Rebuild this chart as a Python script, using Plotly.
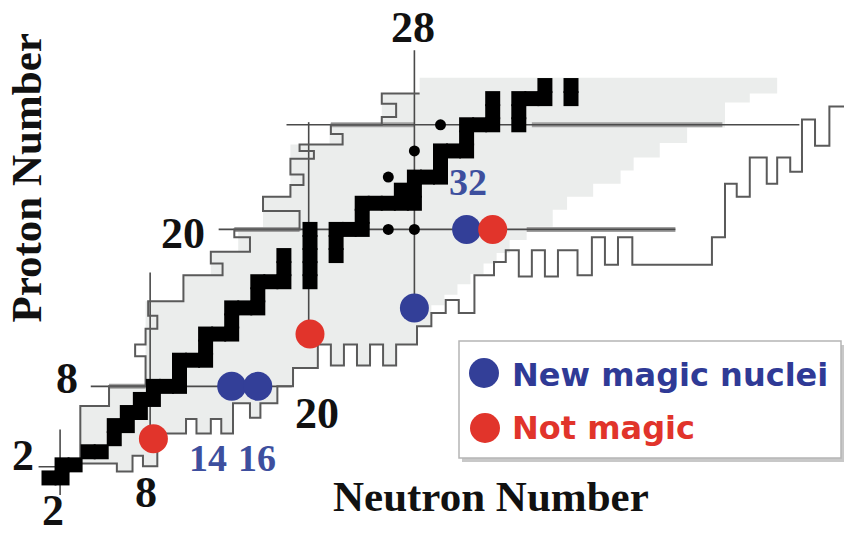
import plotly.graph_objects as go

# ---------------- data (N = neutron number, Z = proton number) ----------------
# stable nuclides drawn as black cells
stable_N = [0, 1, 1, 2, 3, 4, 5, 5, 6, 6, 7, 7, 8, 8, 9, 10, 10, 10, 11, 12, 12, 12, 13, 14,
            14, 14, 15, 16, 16, 16, 17, 18, 20, 18, 20, 18, 20, 22, 20, 22, 20, 22, 23, 24,
            24, 24, 25, 26, 27, 28, 27, 28, 28, 29, 30, 30, 30, 31, 32, 32, 32, 33, 34, 36,
            34, 36, 34, 36, 37, 38, 40, 38, 40]
stable_Z = [1, 1, 2, 2, 3, 3, 4, 5, 5, 6, 6, 7, 7, 8, 8, 8, 9, 10, 10, 10, 11, 12, 12, 12,
            13, 14, 14, 14, 15, 16, 16, 16, 16, 17, 17, 18, 18, 18, 19, 19, 20, 20, 20, 20,
            21, 22, 22, 22, 22, 22, 23, 23, 24, 24, 24, 25, 26, 26, 26, 27, 28, 28, 28, 28,
            29, 29, 30, 30, 30, 30, 30, 31, 31]
# stable nuclides drawn as small dots
dot_N = [26, 28, 26, 28, 30]
dot_Z = [20, 20, 24, 26, 28]

# new magic / not magic nuclei
magic_N = [14, 16, 28, 32]
magic_Z = [8, 8, 14, 20]
notmagic_N = [8, 20, 34]
notmagic_Z = [4, 12, 20]

# proton drip line (upper-left staircase)
PD_N = [2.4, 2.4, 4.6, 4.6, 7.4, 7.4, 6.6, 6.6, 7.4, 7.4, 8.3, 8.3, 7.6, 7.6, 10.3, 10.3,
        13.3, 13.3, 12.4, 12.4, 15.4, 15.4, 14.2, 14.2, 19.2, 19.2, 16.4, 16.4, 18.5, 18.5,
        19.5, 19.5, 18.5, 18.5, 20.3, 20.3, 19.2, 19.2, 22.5, 22.5, 21.6, 21.6, 25.5, 25.5,
        26.6, 26.6, 25.5, 25.5, 28.4]
PD_Z = [2.5, 6.5, 6.5, 8.0, 8.0, 10.3, 10.3, 11.2, 11.2, 12.4, 12.4, 13.4, 13.4, 14.5, 14.5, 16.5,
        16.5, 17.4, 17.4, 18.3, 18.3, 19.4, 19.4, 20.0, 20.0, 21.4, 21.4, 22.5, 22.5, 23.4,
        23.4, 24.2, 24.2, 25.4, 25.4, 26.0, 26.0, 26.5, 26.5, 27.3, 27.3, 28.0, 28.0, 28.6,
        28.6, 29.6, 29.6, 30.4, 30.4]

# neutron drip line (lower-right staircase)
ND_N = [2.4, 5.2, 5.2, 6.4, 6.4, 7.2, 7.2, 8.3, 8.3,
        10.5, 10.5, 11.3, 11.3, 12.4, 12.4, 13.2, 13.2, 14.1,
        14.1, 15.4, 15.4, 16.2, 16.2, 17.5, 17.5, 18.7,
        18.7, 20.6, 20.6, 21.6, 21.6, 22.6, 22.6, 23.6, 23.6, 24.6, 24.6, 25.6, 25.6, 26.6,
        26.6, 28.2, 28.2, 29.3, 29.3, 30.4, 30.4, 31.4, 31.4, 32.6, 32.6, 34.1, 34.1, 35.0,
        35.0, 36.0, 36.0, 37.0, 37.0, 38.0, 38.0, 39.0, 39.0, 40.5, 40.5, 41.6, 41.6, 42.6,
        42.6, 43.6, 43.6, 44.7, 44.7, 50.8, 50.8, 51.8, 51.8, 52.7, 52.7, 53.7, 53.7, 55.0,
        55.0, 55.8, 55.8, 56.8, 56.8, 57.7, 57.7, 58.7, 58.7, 59.8, 59.8, 61.5]
ND_Z = [2.1, 2.1, 1.5, 1.5, 2.7, 2.7, 1.9, 1.9, 4.4,
        4.4, 5.5, 5.5, 4.4, 4.4, 5.5, 5.5, 4.4, 4.4,
        6.7, 6.7, 5.6, 5.6, 6.7, 6.7, 8.0, 8.0,
        9.4, 9.4, 11.2, 11.2, 9.6, 9.6, 11.2, 11.2, 9.6, 9.6, 11.2, 11.2, 9.6, 9.6,
        11.2, 11.2, 12.6, 12.6, 13.6, 13.6, 14.6, 14.6, 13.6, 13.6, 16.5, 16.5, 17.5, 17.5,
        18.4, 18.4, 16.4, 16.4, 18.4, 18.4, 16.4, 16.4, 18.4, 18.4, 16.5, 16.5, 19.4, 19.4,
        17.3, 17.3, 19.4, 19.4, 17.3, 17.3, 19.4, 19.4, 23.5, 23.5, 22.5, 22.5, 25.5, 25.5,
        23.5, 23.5, 25.5, 25.5, 24.4, 24.4, 28.4, 28.4, 26.4, 26.4, 29.4, 29.4, 26.4, 26.4]

# right / top boundary of the shaded region of observed nuclei
FR_N = [29.3, 30.3, 30.3, 31.3, 31.3, 32.3, 32.3, 33.3, 33.3, 34.3, 34.3, 35.3, 35.3, 36.6,
        36.6, 38.6, 38.6, 39.7, 39.7, 41.7, 41.7, 43.8, 43.8, 44.8, 44.8, 46.8, 46.8, 48.9,
        48.9, 51.8, 51.8, 53.7, 53.7, 55.8, 55.8, 28.4, 28.4]
FR_Z = [14.2, 14.2, 15.0, 15.0, 15.8, 15.8, 16.6, 16.6, 17.4, 17.4, 18.2, 18.2, 19.2, 19.2,
        20.2, 20.2, 21.5, 21.5, 22.5, 22.5, 23.5, 23.5, 24.5, 24.5, 25.5, 25.5, 26.6, 26.6,
        27.8, 27.8, 29.7, 29.7, 30.4, 30.4, 31.6, 31.6, 30.4]
# upper-left envelope of the shaded region (top to bottom)
PE_N = [25.5, 25.5, 21.5, 21.5, 18.5, 18.5, 16.4, 16.4, 14.5, 14.5, 12.4, 12.4, 10.3, 10.3,
        7.4, 7.4, 4.6, 4.6, 2.4, 2.4]
PE_Z = [30.4, 28.0, 28.0, 26.5, 26.5, 22.5, 22.5, 20.0, 20.0, 18.3, 18.3, 16.5, 16.5, 14.5,
        14.5, 8.0, 8.0, 6.5, 6.5, 2.1]

# magic-number lines as drawn: horizontal (Z, N from, N to) and vertical (N, Z from, Z to)
hline_Z = [1.85, 8.0, 20.0, 28.0]
hline_N0 = [-0.8, 3.2, 13.0, 18.2]
hline_N1 = [2.4, 18.6, 48.0, 57.5]
vline_N = [0.85, 7.75, 19.9, 28.0]
vline_Z0 = [-0.3, 3.5, 12.0, 13.8]
vline_Z1 = [4.7, 16.7, 28.2, 33.7]
# thicker grey doubling of some line stretches
halo_Z = [8.0, 20.0, 28.0, 20.0, 28.0]
halo_N0 = [4.6, 14.2, 21.6, 36.6, 37.0]
halo_N1 = [7.4, 19.2, 28.0, 48.0, 51.6]

# labels
num_text = ["28", "20", "8", "2", "2", "8", "20"]
num_N = [27.9, 10.3, 1.4, -2.0, 0.3, 7.4, 20.5]
num_Z = [35.4, 19.7, 8.6, 2.75, -1.5, -0.1, 5.9]
blue_text = ["14", "16", "32"]
blue_N = [12.2, 15.9, 32.1]
blue_Z = [2.5, 2.5, 23.6]

BLUE = "#333f98"
RED = "#e1342b"
LINE = "#5a5a5a"

fig = go.Figure()

# shaded region
nd_cut = 44  # index of (29.3, 13.6) in ND path
fill_N = ND_N[:nd_cut] + FR_N + PE_N
fill_Z = ND_Z[:nd_cut] + FR_Z + PE_Z
fig.add_trace(go.Scatter(x=fill_N, y=fill_Z, mode="lines", fill="toself",
                         fillcolor="#ebedec", line=dict(width=0), hoverinfo="skip"))

# halos
for z, a, b in zip(halo_Z, halo_N0, halo_N1):
    fig.add_trace(go.Scatter(x=[a, b], y=[z, z], mode="lines",
                             line=dict(color="#a0a0a0", width=5), hoverinfo="skip"))
# magic lines
for z, a, b in zip(hline_Z, hline_N0, hline_N1):
    fig.add_trace(go.Scatter(x=[a, b], y=[z, z], mode="lines",
                             line=dict(color="#4a4a4a", width=1.6), hoverinfo="skip"))
for n, a, b in zip(vline_N, vline_Z0, vline_Z1):
    fig.add_trace(go.Scatter(x=[n, n], y=[a, b], mode="lines",
                             line=dict(color="#4a4a4a", width=1.6), hoverinfo="skip"))

# drip lines
fig.add_trace(go.Scatter(x=PD_N, y=PD_Z, mode="lines",
                         line=dict(color=LINE, width=2), hoverinfo="skip"))
fig.add_trace(go.Scatter(x=ND_N, y=ND_Z, mode="lines",
                         line=dict(color=LINE, width=2), hoverinfo="skip"))

# stable nuclei
fig.add_trace(go.Scatter(x=stable_N, y=stable_Z, mode="markers",
                         marker=dict(symbol="square", size=15, color="black", line=dict(width=0)),
                         hoverinfo="skip"))
fig.add_trace(go.Scatter(x=dot_N, y=dot_Z, mode="markers",
                         marker=dict(symbol="circle", size=11, color="black", line=dict(width=0)),
                         hoverinfo="skip"))

# new magic / not magic
fig.add_trace(go.Scatter(x=magic_N, y=magic_Z, mode="markers",
                         marker=dict(size=29, color=BLUE, line=dict(width=0))))
fig.add_trace(go.Scatter(x=notmagic_N, y=notmagic_Z, mode="markers",
                         marker=dict(size=29, color=RED, line=dict(width=0))))

# labels
for t, n, z in zip(num_text, num_N, num_Z):
    fig.add_annotation(x=n, y=z, text=t, showarrow=False,
                       font=dict(family="Liberation Serif", size=44, color="#111111", weight="bold"))
for t, n, z in zip(blue_text, blue_N, blue_Z):
    fig.add_annotation(x=n, y=z, text=t, showarrow=False,
                       font=dict(family="Liberation Serif", size=38, color="#3d4f9e", weight="bold"))

fig.add_annotation(x=33.9, y=-0.4, text="Neutron Number", showarrow=False,
                   font=dict(family="Liberation Serif", size=43, color="#111111", weight="bold"))
fig.add_annotation(x=-1.75, y=23.9, text="Proton Number", showarrow=False, textangle=-90,
                   font=dict(family="Liberation Serif", size=43, color="#111111", weight="bold"))

# legend box (custom, drawn in paper coordinates)
W, H = 844, 536
def px(x):
    return x / W
def py(y):
    return 1 - y / H
fig.add_shape(type="rect", xref="paper", yref="paper", x0=px(462), x1=px(844), y0=py(462), y1=py(345),
              line=dict(width=0), fillcolor="#c8c8c8", layer="above")
fig.add_shape(type="rect", xref="paper", yref="paper", x0=px(459), x1=px(841), y0=py(458), y1=py(341),
              line=dict(color="#b5b5b5", width=1.5), fillcolor="white", layer="above")
fig.add_shape(type="circle", xref="paper", yref="paper", x0=px(469), x1=px(499), y0=py(388), y1=py(358),
              line=dict(width=0), fillcolor=BLUE, layer="above")
fig.add_shape(type="circle", xref="paper", yref="paper", x0=px(470), x1=px(500), y0=py(443), y1=py(413),
              line=dict(width=0), fillcolor=RED, layer="above")
fig.add_annotation(xref="paper", yref="paper", x=px(510), y=py(375), xanchor="left", yanchor="middle",
                   text="New magic nuclei", showarrow=False,
                   font=dict(family="DejaVu Sans", size=32, color="#2f3a96", weight="bold"))
fig.add_annotation(xref="paper", yref="paper", x=px(510), y=py(428), xanchor="left", yanchor="middle",
                   text="Not magic", showarrow=False,
                   font=dict(family="DejaVu Sans", size=32, color=RED, weight="bold"))

fig.update_layout(
    width=W, height=H, margin=dict(l=0, r=0, t=0, b=0),
    paper_bgcolor="white", plot_bgcolor="white", showlegend=False,
    xaxis=dict(range=[-3.755, 60.92], visible=False, fixedrange=True),
    yaxis=dict(range=[-3.44, 37.54], visible=False, fixedrange=True),
)

fig.write_html("out.html")
